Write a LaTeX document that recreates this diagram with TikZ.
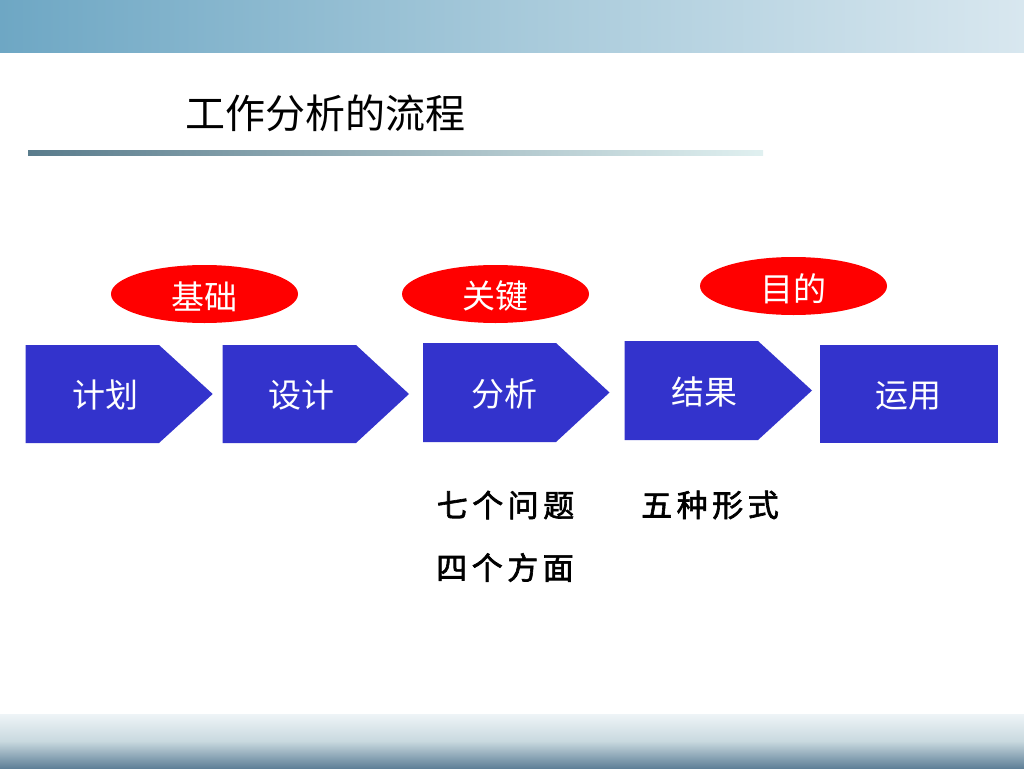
\documentclass[tikz,border=0pt]{standalone}
\usepackage{fontspec}
\newfontfamily\cjk{Noto Sans CJK SC}
\newfontfamily\cjkb[FakeBold=2]{Noto Sans CJK SC}
\usetikzlibrary{shapes.geometric}
\definecolor{boxblue}{HTML}{3333CC}
\definecolor{ovalred}{HTML}{FF0000}
\definecolor{bandL}{HTML}{6EA7C4}
\definecolor{bandM}{HTML}{A6C9DA}
\definecolor{bandR}{HTML}{D8E7EF}
\definecolor{lineL}{HTML}{5A7C8C}
\definecolor{lineR}{HTML}{E0F0F0}
\definecolor{botT}{HTML}{EEF4F7}
\definecolor{botM}{HTML}{C9D9DF}
\definecolor{botB}{HTML}{5F8098}
\newcommand{\gp}{\hspace{4.5pt}}
\tikzset{
  ovalshape/.style={ellipse, fill=ovalred, draw=none, inner sep=0pt, minimum width=187pt, minimum height=58pt},
  boxtext/.style={text=white, inner sep=0pt, font=\cjk\fontsize{33}{33}\selectfont},
  ovaltext/.style={text=white, inner sep=0pt, font=\cjk\fontsize{33}{33}\selectfont},
  notetext/.style={text=black, inner sep=0pt, font=\cjkb\fontsize{31}{31}\selectfont},
  titletext/.style={text=black, inner sep=0pt, font=\cjk\fontsize{40}{40}\selectfont}
}
\begin{document}
\begin{tikzpicture}[x=1pt,y=-1pt]
\useasboundingbox (0,0) rectangle (1024,768);
\fill[white] (0,0) rectangle (1024,768);
% top band
\shade[left color=bandL, right color=bandR, middle color=bandM] (0,0) rectangle (1024,53);
% bottom band
\shade[top color=botT, bottom color=botB, middle color=botM] (0,714) rectangle (1024,768);
% title
\node[titletext, anchor=west] (title) at (185,113) {工作分析的流程};
\shade[left color=lineL, right color=lineR] (28,150) rectangle (763,155);
% ovals
\node[ovalshape] (o1) at (204.5,294) {};
\node[ovalshape] (o2) at (495.5,294) {};
\node[ovalshape] (o3) at (793.5,286) {};
\node[ovaltext] (t1) at (204.5,296.5) {基础};
\node[ovaltext] (t2) at (495,296) {关键};
\node[ovaltext] (t3) at (793,289) {目的};
% chevrons
\fill[boxblue] (25.7,345) -- (159,345) -- (212.7,394) -- (159,443) -- (25.7,443) -- cycle;
\fill[boxblue] (222.7,345) -- (356,345) -- (409,394) -- (356,443) -- (222.7,443) -- cycle;
\fill[boxblue] (423,343) -- (556,343) -- (609.5,392.5) -- (556,442) -- (423,442) -- cycle;
\fill[boxblue] (624.5,341) -- (758,341) -- (812,390.5) -- (758,440) -- (624.5,440) -- cycle;
\fill[boxblue] (820,345) rectangle (998,443);
\node[boxtext] (b1) at (105,395) {计划};
\node[boxtext] (b2) at (301,395) {设计};
\node[boxtext] (b3) at (504,394) {分析};
\node[boxtext] (b4) at (704,391.5) {结果};
\node[boxtext] (b5) at (908,396) {运用};
% notes
\node[notetext] (n1) at (505.5,505) {七\gp 个\gp 问\gp 题};
\node[notetext] (n2) at (505,567.5) {四\gp 个\gp 方\gp 面};
\node[notetext] (n3) at (710,505) {五\gp 种\gp 形\gp 式};
\end{tikzpicture}
\end{document}
